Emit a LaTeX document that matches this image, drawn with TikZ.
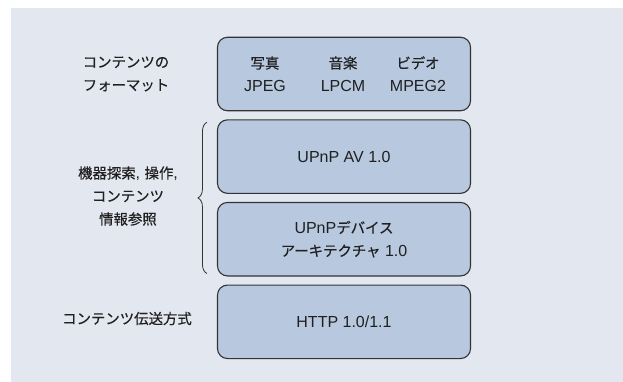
\documentclass[tikz,border=0pt]{standalone}
\usepackage{fontspec}
\setmainfont{Liberation Sans}
\newfontfamily\jp[Scale=0.9,FakeBold=0.5]{Noto Sans CJK JP}
\usetikzlibrary{positioning,decorations.pathreplacing}
\definecolor{bgfill}{HTML}{E3E7F0}
\definecolor{boxfill}{HTML}{B7C8DF}
\definecolor{boxline}{HTML}{333333}
\definecolor{txt}{HTML}{202020}

\begin{document}
\begin{tikzpicture}[x=1pt, y=-1pt,
        every node/.style={text=txt, align=center, font=\fontsize{16}{23}\selectfont},
        layer/.style={draw=boxline, fill=boxfill, line width=1.1pt, rounded corners=10pt,
            minimum width=253pt, minimum height=73.5pt, inner sep=0pt},
        side/.style={anchor=center}]

    \useasboundingbox (0,0) rectangle (623,382);
    \fill[bgfill] (11,8) rectangle (623,382);

    % protocol stack
    \node[layer] (fmt) at (344,74) {};
    \node[layer, below=8pt of fmt] (av) {UPnP AV 1.0};
    \node[layer, below=8pt of av] (dev) {UPnP{\jp デバイス}\\{\jp アーキテクチャ} 1.0};
    \node[layer, below=8pt of dev] (http) {HTTP 1.0/1.1};

    % formats
    \node (photo) at ([xshift=-79pt]fmt.center) {{\jp 写真}\\JPEG};
    \node (music) at ([xshift=-1pt]fmt.center) {{\jp 音楽}\\LPCM};
    \node (video) at ([xshift=74pt]fmt.center) {{\jp ビデオ}\\MPEG2};

    % labels
    \node[side] (lfmt) at (126,74) {\jp コンテンツの\\\jp フォーマット};
    \node[side] (lctl) at (128,196) {{\jp 機器探索}, {\jp 操作},\\\jp コンテンツ\\\jp 情報参照};
    \node[side] (ltrans) at (127,318.5) {\jp コンテンツ伝送方式};

    \coordinate (bt) at ([xshift=-10pt,yshift=-3pt]av.north west);
    \coordinate (bb) at ([xshift=-10pt,yshift=3pt]dev.south west);
    \draw[boxline, line width=0.8pt, decorate, decoration={brace, amplitude=9pt}] (bb) -- (bt);
\end{tikzpicture}
\end{document}
